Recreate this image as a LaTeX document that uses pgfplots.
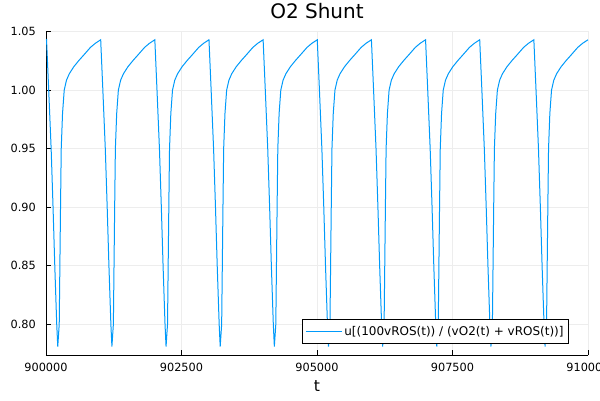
\documentclass[border=0pt]{standalone}
\usepackage{fontspec}
\setmainfont{DejaVu Sans}
\usepackage{pgfplots}
\pgfplotsset{compat=1.18}
\definecolor{juliablue}{RGB}{0,154,250}

\begin{document}
\begin{tikzpicture}
\useasboundingbox (-46pt,-44.7pt) rectangle (554pt,355.3pt);
\clip (-46pt,-44.7pt) rectangle (554pt,355.3pt);
\begin{axis}[
  scale only axis,
  width=542pt, height=324.3pt,
  xmin=900000, xmax=910000,
  ymin=0.7735, ymax=1.0505,
  xtick={900000,902500,905000,907500,910000},
  ytick={0.80,0.85,0.90,0.95,1.00,1.05},
  scaled x ticks=false, scaled y ticks=false,
  /pgf/number format/assume math mode=true,
  tick label style={font=\fontsize{11.3}{13}\selectfont},
  x tick label style={/pgf/number format/fixed, /pgf/number format/precision=0, /pgf/number format/1000 sep={}},
  xticklabel style={anchor=base, yshift=-16.4pt, inner sep=0pt},
  y tick label style={/pgf/number format/fixed, /pgf/number format/fixed zerofill, /pgf/number format/precision=2},
  yticklabel style={anchor=east, xshift=-10pt, inner sep=0pt},
  axis x line*=bottom, axis y line*=left,
  axis line style={black, line width=0.8pt},
  tick align=inside, major tick length=5pt,
  tick style={black, line width=0.8pt},
  grid=major,
  major grid style={black!7, line width=0.5pt},
  title={O2 Shunt},
  title style={font=\fontsize{20}{24}\selectfont, at={(axis description cs:0.5,1)}, anchor=base, yshift=6.7pt},
  xlabel={t},
  x label style={font=\fontsize{15.6}{18}\selectfont, at={(axis description cs:0.5,0)}, anchor=base, yshift=-36.4pt},
  legend style={at={(axis description cs:0.965,0.035)}, anchor=south east, draw=black, line width=0.8pt,
    font=\fontsize{12}{14}\selectfont, inner xsep=3pt, inner ysep=5pt},
  legend cell align=left,
  legend image code/.code={\draw[#1, line width=1pt] (0pt,0pt) -- (36pt,0pt);},
]
\addplot[juliablue, line width=1pt] coordinates {
(900000,1.0425)
(900010,1.043) (900050,1.000) (900095,0.950) (900130,0.900) (900162,0.850) (900198,0.800) (900217,0.781)
(900244,0.800) (900256,0.850) (900268,0.900) (900281,0.950) (900305,0.980) (900336,1.000) (900378,1.0085)
(900430,1.014) (900513,1.020) (900610,1.0255) (900697,1.030) (900820,1.0365) (900910,1.040)
(901009,1.043) (901049,1.000) (901094,0.950) (901129,0.900) (901161,0.850) (901197,0.800) (901216,0.781)
(901243,0.800) (901255,0.850) (901267,0.900) (901280,0.950) (901304,0.980) (901335,1.000) (901377,1.0085)
(901429,1.014) (901512,1.020) (901609,1.0255) (901696,1.030) (901819,1.0365) (901909,1.040)
(902008,1.043) (902048,1.000) (902093,0.950) (902128,0.900) (902160,0.850) (902196,0.800) (902215,0.781)
(902242,0.800) (902254,0.850) (902266,0.900) (902279,0.950) (902303,0.980) (902334,1.000) (902376,1.0085)
(902428,1.014) (902511,1.020) (902608,1.0255) (902695,1.030) (902818,1.0365) (902908,1.040)
(903007,1.043) (903047,1.000) (903092,0.950) (903127,0.900) (903159,0.850) (903195,0.800) (903214,0.781)
(903241,0.800) (903253,0.850) (903265,0.900) (903278,0.950) (903302,0.980) (903333,1.000) (903375,1.0085)
(903427,1.014) (903510,1.020) (903607,1.0255) (903694,1.030) (903817,1.0365) (903907,1.040)
(904006,1.043) (904046,1.000) (904091,0.950) (904126,0.900) (904158,0.850) (904194,0.800) (904213,0.781)
(904240,0.800) (904252,0.850) (904264,0.900) (904277,0.950) (904301,0.980) (904332,1.000) (904374,1.0085)
(904426,1.014) (904509,1.020) (904606,1.0255) (904693,1.030) (904816,1.0365) (904906,1.040)
(905005,1.043) (905045,1.000) (905090,0.950) (905125,0.900) (905157,0.850) (905193,0.800) (905212,0.781)
(905239,0.800) (905251,0.850) (905263,0.900) (905276,0.950) (905300,0.980) (905331,1.000) (905373,1.0085)
(905425,1.014) (905508,1.020) (905605,1.0255) (905692,1.030) (905815,1.0365) (905905,1.040)
(906004,1.043) (906044,1.000) (906089,0.950) (906124,0.900) (906156,0.850) (906192,0.800) (906211,0.781)
(906238,0.800) (906250,0.850) (906262,0.900) (906275,0.950) (906299,0.980) (906330,1.000) (906372,1.0085)
(906424,1.014) (906507,1.020) (906604,1.0255) (906691,1.030) (906814,1.0365) (906904,1.040)
(907003,1.043) (907043,1.000) (907088,0.950) (907123,0.900) (907155,0.850) (907191,0.800) (907210,0.781)
(907237,0.800) (907249,0.850) (907261,0.900) (907274,0.950) (907298,0.980) (907329,1.000) (907371,1.0085)
(907423,1.014) (907506,1.020) (907603,1.0255) (907690,1.030) (907813,1.0365) (907903,1.040)
(908002,1.043) (908042,1.000) (908087,0.950) (908122,0.900) (908154,0.850) (908190,0.800) (908209,0.781)
(908236,0.800) (908248,0.850) (908260,0.900) (908273,0.950) (908297,0.980) (908328,1.000) (908370,1.0085)
(908422,1.014) (908505,1.020) (908602,1.0255) (908689,1.030) (908812,1.0365) (908902,1.040)
(909001,1.043) (909041,1.000) (909086,0.950) (909121,0.900) (909153,0.850) (909189,0.800) (909208,0.781)
(909235,0.800) (909247,0.850) (909259,0.900) (909272,0.950) (909296,0.980) (909327,1.000) (909369,1.0085)
(909421,1.014) (909504,1.020) (909601,1.0255) (909688,1.030) (909811,1.0365) (909901,1.040)
(910000,1.043)
};
\addlegendentry{u[(100vROS(t)) / (vO2(t) + vROS(t))]}
\end{axis}
\end{tikzpicture}
\end{document}
